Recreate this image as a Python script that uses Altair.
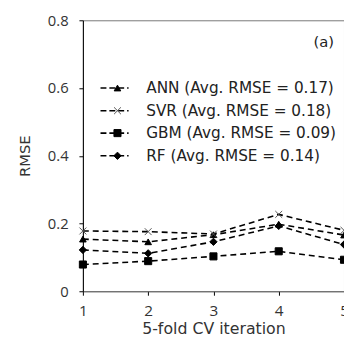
import altair as alt
import pandas as pd

iterations = [1, 2, 3, 4, 5]
ann = [0.154, 0.146, 0.167, 0.198, 0.166]
svr = [0.178, 0.176, 0.169, 0.227, 0.180]
gbm = [0.079, 0.089, 0.103, 0.118, 0.093]
rf = [0.122, 0.112, 0.146, 0.193, 0.138]

models = ["ANN", "SVR", "GBM", "RF"]
legend_labels = ["ANN (Avg. RMSE = 0.17)", "SVR (Avg. RMSE = 0.18)",
                 "GBM (Avg. RMSE = 0.09)", "RF (Avg. RMSE = 0.14)"]
legend_y = [0.6, 0.533, 0.467, 0.4]

TFONT = "DejaVu Sans"
LFONT = "Open Sans"
XPATH = "M-1,-1L1,1M1,-1L-1,1"

rows = []
for m, vals in zip(models, [ann, svr, gbm, rf]):
    for i, v in zip(iterations, vals):
        rows.append({"it": i, "rmse": v, "model": m})
df = pd.DataFrame(rows)

leg = pd.DataFrame({"model": models, "label": legend_labels, "y": legend_y,
                    "x0": [1.27] * 4, "x1": [1.70] * 4, "xm": [1.53] * 4, "xt": [1.97] * 4})

xscale = alt.Scale(domain=[1, 5], nice=False)
yscale = alt.Scale(domain=[0, 0.8], nice=False)

xaxis = alt.Axis(values=[1, 1.5, 2, 2.5, 3, 3.5, 4, 4.5, 5],
                 labelExpr="datum.value % 1 == 0 ? format(datum.value, 'd') : ''",
                 grid=False, tickSize=4, tickColor="#000", domainColor="#666",
                 labelPadding=21, labelBaseline="alphabetic",
                 labelFontSize=15.5, labelColor="#333", labelFont=LFONT,
                 title="5-fold CV iteration", titleFontSize=16, titleFontWeight="normal",
                 titleColor="#333", titleFont=TFONT, titleBaseline="alphabetic", titleY=43,
                 labelFlush=False)
yaxis = alt.Axis(values=[0, 0.1, 0.2, 0.3, 0.4, 0.5, 0.6, 0.7, 0.8],
                 labelExpr="datum.value == 0 ? '0' : (round(datum.value*10) % 2 == 0 ? format(datum.value, '.1f') : '')",
                 grid=False, tickSize=4, tickColor="#000", domainColor="#000",
                 labelPadding=11, labelFontSize=15, labelColor="#333", labelFont=LFONT,
                 title="RMSE", titleFontSize=15, titleFontWeight="normal",
                 titleColor="#333", titleFont=TFONT, titlePadding=15, labelFlush=False)

shape_scale = alt.Scale(domain=models, range=["triangle-up", XPATH, "square", "diamond"])
size_scale = alt.Scale(domain=models, range=[45, 55, 45, 40])
fill_scale = alt.Scale(domain=models, range=["#000", "transparent", "#000", "#000"])
stroke_scale = alt.Scale(domain=models, range=["#000", "#555", "#000", "#000"])

base = alt.Chart(df)
lines = base.mark_line(color="#000", strokeWidth=1.6, strokeDash=[6, 4]).encode(
    x=alt.X("it:Q", scale=xscale, axis=xaxis),
    y=alt.Y("rmse:Q", scale=yscale, axis=yaxis),
    detail="model:N",
)
points = base.mark_point(filled=False, strokeWidth=1, opacity=1).encode(
    x=alt.X("it:Q", scale=xscale),
    y=alt.Y("rmse:Q", scale=yscale),
    shape=alt.Shape("model:N", scale=shape_scale, legend=None),
    size=alt.Size("model:N", scale=size_scale, legend=None),
    fill=alt.Fill("model:N", scale=fill_scale, legend=None),
    stroke=alt.Stroke("model:N", scale=stroke_scale, legend=None),
)

lbase = alt.Chart(leg)
lrules = lbase.mark_rule(color="#000", strokeWidth=1.6, strokeDash=[6, 3]).encode(
    x=alt.X("x0:Q", scale=xscale), x2="x1:Q", y=alt.Y("y:Q", scale=yscale))
lpoints = lbase.mark_point(filled=False, strokeWidth=1, opacity=1).encode(
    x=alt.X("xm:Q", scale=xscale),
    y=alt.Y("y:Q", scale=yscale),
    shape=alt.Shape("model:N", scale=shape_scale, legend=None),
    size=alt.Size("model:N", scale=size_scale, legend=None),
    fill=alt.Fill("model:N", scale=fill_scale, legend=None),
    stroke=alt.Stroke("model:N", scale=stroke_scale, legend=None),
)
ltext = lbase.mark_text(align="left", baseline="middle", fontSize=15.5, font=TFONT, color="#222").encode(
    x=alt.X("xt:Q", scale=xscale), y=alt.Y("y:Q", scale=yscale), text="label:N")

panel = pd.DataFrame({"t": ["(a)"], "x": [4.69], "y": [0.735]})
ptext = alt.Chart(panel).mark_text(align="center", baseline="middle", fontSize=15, font=TFONT, color="#222").encode(
    x=alt.X("x:Q", scale=xscale), y=alt.Y("y:Q", scale=yscale), text="t:N")

chart = alt.layer(lines, points, lrules, lpoints, ltext, ptext).properties(
    width=265, height=275,
    autosize=alt.AutoSizeParams(type="none"),
    padding={"left": 76, "top": 10, "right": 0, "bottom": 49},
).configure_view(stroke="#777", strokeWidth=1)

chart.save("out.html", embed_options={"renderer": "svg", "actions": False})
